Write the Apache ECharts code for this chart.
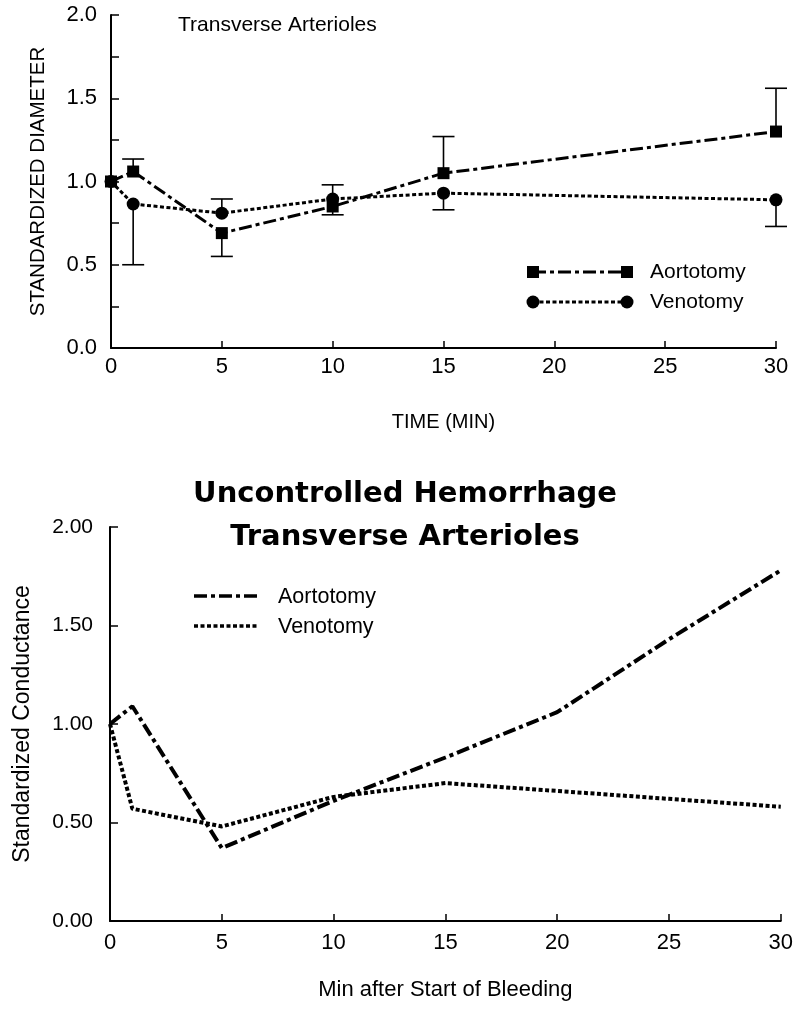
<!DOCTYPE html>
<html>
<head>
<meta charset="utf-8">
<script src="https://cdn.jsdelivr.net/npm/echarts@6/dist/echarts.min.js"></script>
<style>
html, body { margin: 0; padding: 0; background: #fff; }
#main { width: 796px; height: 1011px; }
</style>
</head>
<body>
<div id="main"></div>
<script>
// top panel: standardized diameter (mean with one-sided error bars)
var times = [0, 1, 5, 10, 15, 30];
var aortDiam = [1.00, 1.06, 0.69, 0.85, 1.05, 1.30];
var aortErr = [null, 1.135, 0.55, 0.80, 1.27, 1.56];
var venDiam = [1.00, 0.865, 0.81, 0.895, 0.93, 0.89];
var venErr = [null, 0.50, 0.895, 0.98, 0.83, 0.73];

// bottom panel: standardized conductance
var condTimes = [0, 1, 5, 10, 15, 20, 25, 30];
var aortCond = [1.00, 1.09, 0.37, 0.61, 0.83, 1.06, 1.43, 1.78];
var venCond = [1.00, 0.57, 0.48, 0.63, 0.70, 0.66, 0.62, 0.58];

var yTicksTop = ['0.0', '0.5', '1.0', '1.5', '2.0'];
var yTicksBot = ['0.00', '0.50', '1.00', '1.50', '2.00'];

var dom = document.getElementById('main');
var myChart = echarts.init(dom);
var font = 'Liberation Sans, Arial, sans-serif';
var black = '#000';

function pairs(xs, ys) {
    return xs.map(function (x, i) { return [x, ys[i]]; });
}
function errData(xs, ys, es) {
    var out = [];
    xs.forEach(function (x, i) {
        if (es[i] != null) out.push([x, ys[i], es[i]]);
    });
    return out;
}
function errRender(params, api) {
    var x = api.value(0);
    var p0 = api.coord([x, api.value(1)]);
    var p1 = api.coord([x, api.value(2)]);
    var st = { stroke: black, lineWidth: 1.6 };
    return {
        type: 'group',
        children: [
            { type: 'line', shape: { x1: p0[0], y1: p0[1], x2: p1[0], y2: p1[1] }, style: st },
            { type: 'line', shape: { x1: p1[0] - 11, y1: p1[1], x2: p1[0] + 11, y2: p1[1] }, style: st }
        ]
    };
}
function label(txt, x, y, size) {
    return {
        type: 'text', x: x, y: y,
        style: { text: txt, fill: black, font: size + 'px ' + font, verticalAlign: 'middle' }
    };
}

var dashDot = [13, 4, 4, 4];
var dotted = [4, 2.5];

var xAxisBase = {
    type: 'value', min: 0, max: 30, interval: 5,
    axisLine: { lineStyle: { color: black, width: 2 } },
    axisTick: { inside: true, length: 7, lineStyle: { color: black, width: 1.5 } },
    splitLine: { show: false },
    axisLabel: { color: black, fontFamily: font, fontSize: 22 },
    nameLocation: 'middle'
};

var option = {
    animation: false,
    backgroundColor: '#fff',
    title: {
        text: 'Uncontrolled Hemorrhage\nTransverse Arterioles',
        left: 400, top: 468, textAlign: 'center',
        textStyle: { color: black, fontFamily: 'DejaVu Sans', fontWeight: 900, fontSize: 29, lineHeight: 43 }
    },
    grid: [
        { left: 111, right: 20, top: 15, height: 333 },
        { left: 110, right: 14, top: 527, height: 394 }
    ],
    xAxis: [
        echarts.util.merge({
            gridIndex: 0, name: 'TIME (MIN)', nameGap: 64,
            nameTextStyle: { color: black, fontFamily: font, fontSize: 20 },
            axisLabel: { margin: 8 }
        }, xAxisBase),
        echarts.util.merge({
            gridIndex: 1, name: 'Min after Start of Bleeding', nameGap: 58,
            nameTextStyle: { color: black, fontFamily: font, fontSize: 22 },
            axisLabel: { margin: 11 }
        }, xAxisBase)
    ],
    yAxis: [
        {
            gridIndex: 0, type: 'value', min: 0, max: 2, interval: 0.5,
            name: 'STANDARDIZED DIAMETER', nameLocation: 'middle', nameGap: 62,
            nameTextStyle: { color: black, fontFamily: font, fontSize: 20.5 },
            axisLine: { show: true, lineStyle: { color: black, width: 2 } },
            axisTick: { inside: true, length: 8, lineStyle: { color: black, width: 1.5 } },
            minorTick: { show: true, splitNumber: 2, length: 8, lineStyle: { color: black, width: 1.5 } },
            splitLine: { show: false },
            axisLabel: {
                color: black, fontFamily: font, fontSize: 22, margin: 14,
                formatter: function (v) { return yTicksTop[Math.round(v / 0.5)]; }
            }
        },
        {
            gridIndex: 1, type: 'value', min: 0, max: 2, interval: 0.5,
            name: 'Standardized Conductance', nameLocation: 'middle', nameGap: 76,
            nameTextStyle: { color: black, fontFamily: font, fontSize: 23 },
            axisLine: { show: true, lineStyle: { color: black, width: 2 } },
            axisTick: { inside: true, length: 8, lineStyle: { color: black, width: 1.5 } },
            splitLine: { show: false },
            axisLabel: {
                color: black, fontFamily: font, fontSize: 21, margin: 17,
                formatter: function (v) { return yTicksBot[Math.round(v / 0.5)]; }
            }
        }
    ],
    graphic: [
        label('Transverse Arterioles', 178, 25, 21),
        // top legend
        { type: 'line', shape: { x1: 533, y1: 272, x2: 627, y2: 272 },
          style: { stroke: black, lineWidth: 3, lineDash: dashDot } },
        { type: 'rect', shape: { x: 527, y: 266, width: 12, height: 12 }, style: { fill: black } },
        { type: 'rect', shape: { x: 621, y: 266, width: 12, height: 12 }, style: { fill: black } },
        label('Aortotomy', 650, 272, 21),
        { type: 'line', shape: { x1: 533, y1: 302, x2: 627, y2: 302 },
          style: { stroke: black, lineWidth: 3, lineDash: dotted } },
        { type: 'circle', shape: { cx: 533, cy: 302, r: 6.5 }, style: { fill: black } },
        { type: 'circle', shape: { cx: 627, cy: 302, r: 6.5 }, style: { fill: black } },
        label('Venotomy', 650, 302, 21),
        // bottom legend
        { type: 'line', shape: { x1: 194, y1: 596, x2: 258, y2: 596 },
          style: { stroke: black, lineWidth: 3.5, lineDash: dashDot } },
        label('Aortotomy', 278, 597, 21.5),
        { type: 'line', shape: { x1: 194, y1: 626, x2: 258, y2: 626 },
          style: { stroke: black, lineWidth: 3.5, lineDash: dotted } },
        label('Venotomy', 278, 627, 21.5)
    ],
    series: [
        {
            name: 'Aortotomy err', type: 'custom', xAxisIndex: 0, yAxisIndex: 0,
            renderItem: errRender, data: errData(times, aortDiam, aortErr), z: 1
        },
        {
            name: 'Venotomy err', type: 'custom', xAxisIndex: 0, yAxisIndex: 0,
            renderItem: errRender, data: errData(times, venDiam, venErr), z: 1
        },
        {
            name: 'Aortotomy', type: 'line', xAxisIndex: 0, yAxisIndex: 0,
            data: pairs(times, aortDiam), symbol: 'rect', symbolSize: 12,
            itemStyle: { color: black },
            lineStyle: { color: black, width: 3, type: dashDot }, z: 3
        },
        {
            name: 'Venotomy', type: 'line', xAxisIndex: 0, yAxisIndex: 0,
            data: pairs(times, venDiam), symbol: 'circle', symbolSize: 13,
            itemStyle: { color: black },
            lineStyle: { color: black, width: 3, type: dotted }, z: 3
        },
        {
            name: 'Aortotomy cond', type: 'line', xAxisIndex: 1, yAxisIndex: 1,
            data: pairs(condTimes, aortCond), symbol: 'none',
            lineStyle: { color: black, width: 4, type: dashDot }
        },
        {
            name: 'Venotomy cond', type: 'line', xAxisIndex: 1, yAxisIndex: 1,
            data: pairs(condTimes, venCond), symbol: 'none',
            lineStyle: { color: black, width: 4, type: dotted }
        }
    ]
};

if (option && typeof option === 'object') {
    myChart.setOption(option, true);
}
</script>
</body>
</html>
